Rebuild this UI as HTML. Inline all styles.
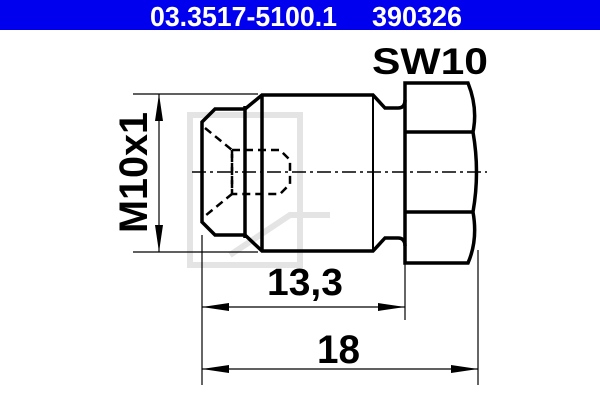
<!DOCTYPE html>
<html><head><meta charset="utf-8"><style>
html,body{margin:0;padding:0;background:#fff;width:600px;height:400px;overflow:hidden}
svg{display:block}
text{font-family:"Liberation Sans",Arial,sans-serif;font-weight:bold}
</style></head><body>
<svg width="600" height="400" viewBox="0 0 600 400">
<rect x="0" y="0" width="600" height="30" fill="#0000ee"/>
<text x="150" y="26" font-size="28" fill="#fff" textLength="187" lengthAdjust="spacingAndGlyphs">03.3517-5100.1</text>
<text x="372" y="26" font-size="28" fill="#fff" textLength="90" lengthAdjust="spacingAndGlyphs">390326</text>

<g fill="none" stroke="#e4e4e4" stroke-width="6">
<rect x="190" y="115" width="110" height="150"/>
<path d="M230 255 L290 215 L330 215"/>
</g>

<text x="372" y="74" font-size="37" fill="#000" textLength="116" lengthAdjust="spacingAndGlyphs">SW10</text>

<g stroke="#000" fill="none">
<path d="M245 109 L215 109 L202 122 L202 222 L215 235 L245 235" stroke-width="3.5"/>
<line x1="245" y1="106" x2="245" y2="238" stroke-width="3.5"/>
<path d="M245 109 L262 95 L373 95 L385 108 L398 108 Q405 108 405 100" stroke-width="3.5"/>
<path d="M245 235 L262 251 L373 251 L385 238 L398 238 Q405 238 405 246" stroke-width="3.5"/>
<line x1="262" y1="95" x2="262" y2="251" stroke-width="3.5"/>
<line x1="373" y1="95" x2="373" y2="251" stroke-width="2"/>
<path d="M405 83 L468 83 Q478 108 473 132 Q480 172 473 212 Q478 240 468 263 L405 263 Z" stroke-width="3.5"/>
<line x1="405" y1="132" x2="473" y2="132" stroke-width="3.5"/>
<line x1="405" y1="212" x2="473" y2="212" stroke-width="3.5"/>
<g stroke-width="2.5" stroke-dasharray="8 5">
<path d="M205 128 L232 150 L232 194 L205 216"/>
<path d="M232 150 L280 150 L290 160 L290 184 L280 194 L232 194"/>
<line x1="232" y1="150" x2="232" y2="194"/>
</g>
<line x1="192" y1="172" x2="487" y2="172" stroke-width="1.5" stroke-dasharray="14 4 3 4"/>
</g>

<g stroke="#000" stroke-width="1.2" fill="#000">
<line x1="133" y1="94" x2="258" y2="94"/>
<line x1="133" y1="252" x2="258" y2="252"/>
<line x1="159" y1="94" x2="159" y2="252"/>
<path d="M159 94 L155 121 L163 121 Z" stroke="none"/>
<path d="M159 252 L155 225 L163 225 Z" stroke="none"/>
<line x1="202" y1="235" x2="202" y2="385"/>
<line x1="405" y1="263" x2="405" y2="320"/>
<line x1="478" y1="250" x2="478" y2="385"/>
<line x1="202" y1="307" x2="405" y2="307"/>
<path d="M202 307 L229 303 L229 311 Z" stroke="none"/>
<path d="M405 307 L378 303 L378 311 Z" stroke="none"/>
<line x1="202" y1="369" x2="478" y2="369"/>
<path d="M202 369 L229 365 L229 373 Z" stroke="none"/>
<path d="M478 369 L451 365 L451 373 Z" stroke="none"/>
</g>

<text transform="translate(147,233) rotate(-90)" font-size="40" fill="#000" textLength="121" lengthAdjust="spacingAndGlyphs">M10x1</text>
<text x="267" y="295" font-size="38" fill="#000" textLength="76" lengthAdjust="spacingAndGlyphs">13,3</text>
<text x="317" y="363" font-size="40" fill="#000" textLength="43" lengthAdjust="spacingAndGlyphs">18</text>
</svg>
</body></html>
